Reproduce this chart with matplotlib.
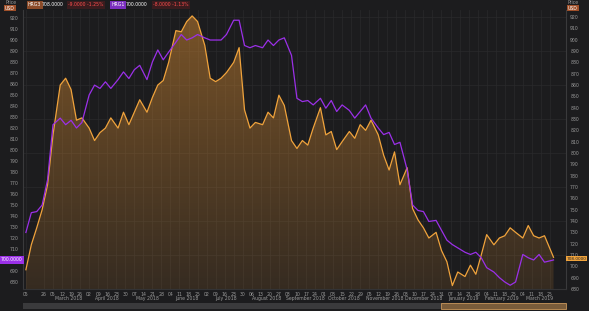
import numpy as np
import pandas as pd
import matplotlib
matplotlib.use('Agg')
import matplotlib.pyplot as plt
from matplotlib.patches import Polygon, Rectangle
from matplotlib.transforms import blended_transform_factory

# ---------------- data ----------------
closed_days = ['2018-02-15', '2018-02-16', '2018-02-19', '2018-02-20', '2018-02-21']
hidden_ticks = ['2018-02-12']

obs_dates = ['2018-02-05', '2018-02-08', '2018-02-13', '2018-02-23', '2018-02-28',
             '2018-03-05', '2018-03-09', '2018-03-14', '2018-03-19', '2018-03-22', '2018-03-27',
             '2018-04-02', '2018-04-05', '2018-04-10', '2018-04-13', '2018-04-18', '2018-04-24', '2018-04-27',
             '2018-05-02', '2018-05-07', '2018-05-10', '2018-05-16', '2018-05-21', '2018-05-24', '2018-05-29',
             '2018-06-01', '2018-06-07', '2018-06-12', '2018-06-15', '2018-06-20', '2018-06-25', '2018-06-29',
             '2018-07-04', '2018-07-09', '2018-07-12', '2018-07-17', '2018-07-23', '2018-07-26', '2018-07-31',
             '2018-08-03', '2018-08-08', '2018-08-14', '2018-08-17', '2018-08-22', '2018-08-27', '2018-08-30',
             '2018-09-05', '2018-09-10', '2018-09-13', '2018-09-18', '2018-09-21', '2018-09-27',
             '2018-10-02', '2018-10-05', '2018-10-10', '2018-10-15', '2018-10-19', '2018-10-24', '2018-10-29',
             '2018-11-01', '2018-11-06', '2018-11-12', '2018-11-15', '2018-11-20', '2018-11-23', '2018-11-28',
             '2018-12-04', '2018-12-07', '2018-12-12', '2018-12-17', '2018-12-20', '2018-12-26', '2018-12-31',
             '2019-01-03', '2019-01-08', '2019-01-11', '2019-01-17', '2019-01-22', '2019-01-25', '2019-01-30',
             '2019-02-04', '2019-02-08', '2019-02-13', '2019-02-18', '2019-02-21', '2019-02-26',
             '2019-03-04', '2019-03-07', '2019-03-12', '2019-03-15', '2019-03-20', '2019-03-27']

hrg3 = [697, 719, 734, 750, 772, 816, 860, 866, 856, 829,
        831, 822, 811, 818, 822, 831, 822, 836, 825, 836,
        847, 836, 849, 860, 864, 880, 908, 907, 916, 921,
        916, 895, 866, 863, 866, 871, 880, 893, 838, 822,
        827, 825, 836, 831, 851, 842, 811, 804, 811, 807,
        822, 840, 816, 819, 803, 810, 819, 813, 825, 820,
        829, 816, 798, 785, 801, 772, 787, 751, 741, 734,
        725, 730, 714, 704, 683, 695, 691, 701, 693, 710,
        728, 719, 725, 727, 734, 730, 725, 736, 727, 725,
        727, 708]

hrg1 = [725, 743, 744, 750, 773, 823, 829, 823, 827, 820,
        825, 850, 859, 856, 862, 856, 864, 871, 865, 873,
        877, 864, 880, 891, 882, 889, 898, 905, 900, 902,
        905, 902, 900, 900, 900, 905, 918, 918, 895, 893,
        895, 893, 900, 895, 900, 902, 886, 847, 844, 845,
        841, 847, 838, 845, 835, 841, 836, 829, 835, 841,
        829, 820, 814, 816, 805, 807, 782, 750, 745, 744,
        735, 736, 727, 718, 714, 711, 707, 705, 707, 702,
        693, 689, 684, 680, 677, 680, 705, 702, 700, 705,
        698, 700]

left_ticks = list(range(680, 921, 10))
right_ticks = list(range(680, 921, 10))
series_names = ['HRG3', 'HRG1']
last_values = ['708.0000', '700.0000']
last_numbers = [708, 700]
changes = ['-9.0000 -1.25%', '-8.0000 -1.13%']
nav_start = '2018-12-31'

# ---------------- calendar ----------------
cal = pd.bdate_range('2018-02-05', '2019-03-29')
cal = cal[~cal.isin(pd.to_datetime(closed_days))]
pos = {d: i for i, d in enumerate(cal)}
x = np.array([pos[pd.Timestamp(d)] for d in obs_dates])

# ---------------- figure ----------------
W, H = 589, 311
BG = '#1c1c1e'
ORANGE = '#f0a33c'
PURPLE = '#9b30e8'
TXT = '#9a9a9a'
GRID = '#2a2a2c'

fig = plt.figure(figsize=(W / 100, H / 100), dpi=100)
fig.patch.set_facecolor(BG)
L, R, T, B = 23, 566, 10, 289
ax = fig.add_axes([L / W, 1 - B / H, (R - L) / W, (B - T) / H])
ax2 = ax.twinx()
ax.set_zorder(3)
ax2.set_zorder(2)
ax.patch.set_visible(False)

xlim = (-1.6, 298.9)
ylim_left = (673.6, 927.3)
ylim_right = (680.0, 926.2)

# grid
mondays = [d for d in cal if d.weekday() == 0 and d.strftime('%Y-%m-%d') not in hidden_ticks]
tick_pos = [pos[d] for d in mondays]
tick_lab = [d.strftime('%d') for d in mondays]
for p in tick_pos:
    ax2.axvline(p, color=GRID, lw=0.5, zorder=0)
for t in right_ticks[::3]:
    ax2.axhline(t, color=GRID, lw=0.5, zorder=0)

# orange area with gradient
ybot = ylim_right[0]
verts = [(x[0], ybot)] + list(zip(x, hrg3)) + [(x[-1], ybot)]
clip = Polygon(verts, closed=True, facecolor='none', edgecolor='none', transform=ax2.transData)
ax2.add_patch(clip)
n = 256
grad = np.zeros((n, 1, 4))
c = matplotlib.colors.to_rgb('#d88c33')
grad[:, 0, 0] = c[0]
grad[:, 0, 1] = c[1]
grad[:, 0, 2] = c[2]
grad[:, 0, 3] = np.linspace(0.14, 0.5, n)
im = ax2.imshow(grad, extent=[x[0], x[-1], ybot, ylim_right[1]], origin='lower', aspect='auto', zorder=1)
im.set_clip_path(clip)
ax2.plot(x, hrg3, color=ORANGE, lw=0.9, zorder=2)
ax.plot(x, hrg1, color=PURPLE, lw=0.9, zorder=3)
ax.set_xlim(*xlim)
ax2.set_ylim(*ylim_right)
ax.set_ylim(*ylim_left)

for a in (ax, ax2):
    for s in a.spines.values():
        s.set_visible(False)
ax.spines['left'].set_visible(True)
ax.spines['left'].set_color('#3a3a3c')
ax2.spines['right'].set_visible(True)
ax2.spines['right'].set_color('#3a3a3c')
ax.spines['bottom'].set_visible(True)
ax.spines['bottom'].set_color('#333335')

# left labels: the one hidden under the value box is left blank
ax.set_yticks(left_ticks)
ax.set_yticklabels(['' if t == last_numbers[1] else str(t) for t in left_ticks])
ax2.set_yticks(right_ticks)
ax2.set_yticklabels([str(t) for t in right_ticks])
ax.tick_params(axis='y', labelsize=3.3, colors=TXT, length=0, pad=3)
ax2.tick_params(axis='y', labelsize=3.3, colors=TXT, length=0, pad=3)
ax.set_xticks(tick_pos)
ax.set_xticklabels(tick_lab)
ax.tick_params(axis='x', labelsize=3.3, colors=TXT, length=0, pad=2)

# month labels
btr = blended_transform_factory(ax.transData, ax.transAxes)
months = pd.Series(range(len(cal)), index=cal)
for (yr, mo), grp in months.groupby([cal.year, cal.month]):
    if len(grp) < 15:
        continue
    name = pd.Timestamp(year=yr, month=mo, day=1).strftime('%B %Y')
    ax.text(grp.mean(), -0.035, name, transform=btr, ha='center', va='center',
            fontsize=3.3, color=TXT)

# value boxes
ax.annotate(last_values[1], xy=(1 / W, last_numbers[1]), xycoords=('figure fraction', 'data'),
            ha='left', va='center', fontsize=3.3, color='white',
            bbox=dict(boxstyle='square,pad=0.3', fc=PURPLE, ec='none'), annotation_clip=False)
ax2.annotate(last_values[0], xy=(567 / W, last_numbers[0] - 1.5), xycoords=('figure fraction', 'data'),
             ha='left', va='center', fontsize=3.1, color='#222222',
             bbox=dict(boxstyle='square,pad=0.12', fc=ORANGE, ec='none'), annotation_clip=False)

# header
def ftxt(px, py, s, **kw):
    fig.text(px / W, 1 - py / H, s, fontsize=3.3, va='center', ha='left', **kw)

ftxt(5, 3, 'Price', color=TXT)
ftxt(5, 8, 'USD', color='white', bbox=dict(boxstyle='square,pad=0.15', fc='#a0502a', ec='none'))
ftxt(568, 3, 'Price', color=TXT)
ftxt(568, 8, 'USD', color='white', bbox=dict(boxstyle='square,pad=0.15', fc='#a0502a', ec='none'))

ftxt(28, 5, series_names[0], color='white', bbox=dict(boxstyle='square,pad=0.3', fc='#8a4a28', ec='none'))
ftxt(42, 5, last_values[0], color='white')
ftxt(68, 5, changes[0], color='#ff4d4d', bbox=dict(boxstyle='square,pad=0.3', fc='#3a1c1e', ec='none'))
ftxt(111, 5, series_names[1], color='white', bbox=dict(boxstyle='square,pad=0.3', fc='#7b2fbf', ec='none'))
ftxt(126, 5, last_values[1], color='white')
ftxt(153, 5, changes[1], color='#ff4d4d', bbox=dict(boxstyle='square,pad=0.3', fc='#3a1c1e', ec='none'))

# navigator bar
ntr = blended_transform_factory(ax.transData, fig.transFigure)
y0 = 1 - 309 / H
hh = 6 / H
fig.add_artist(Rectangle((xlim[0], y0), xlim[1] - xlim[0], hh, transform=ntr,
                         fc='#3a3a3c', ec='none'))
ns = pos[pd.Timestamp(nav_start)]
fig.add_artist(Rectangle((ns, y0), xlim[1] - ns, hh, transform=ntr,
                         fc='#7a5c3a', ec='#c8965a', lw=0.6))

fig.savefig('out.png', dpi=100, facecolor=BG)
